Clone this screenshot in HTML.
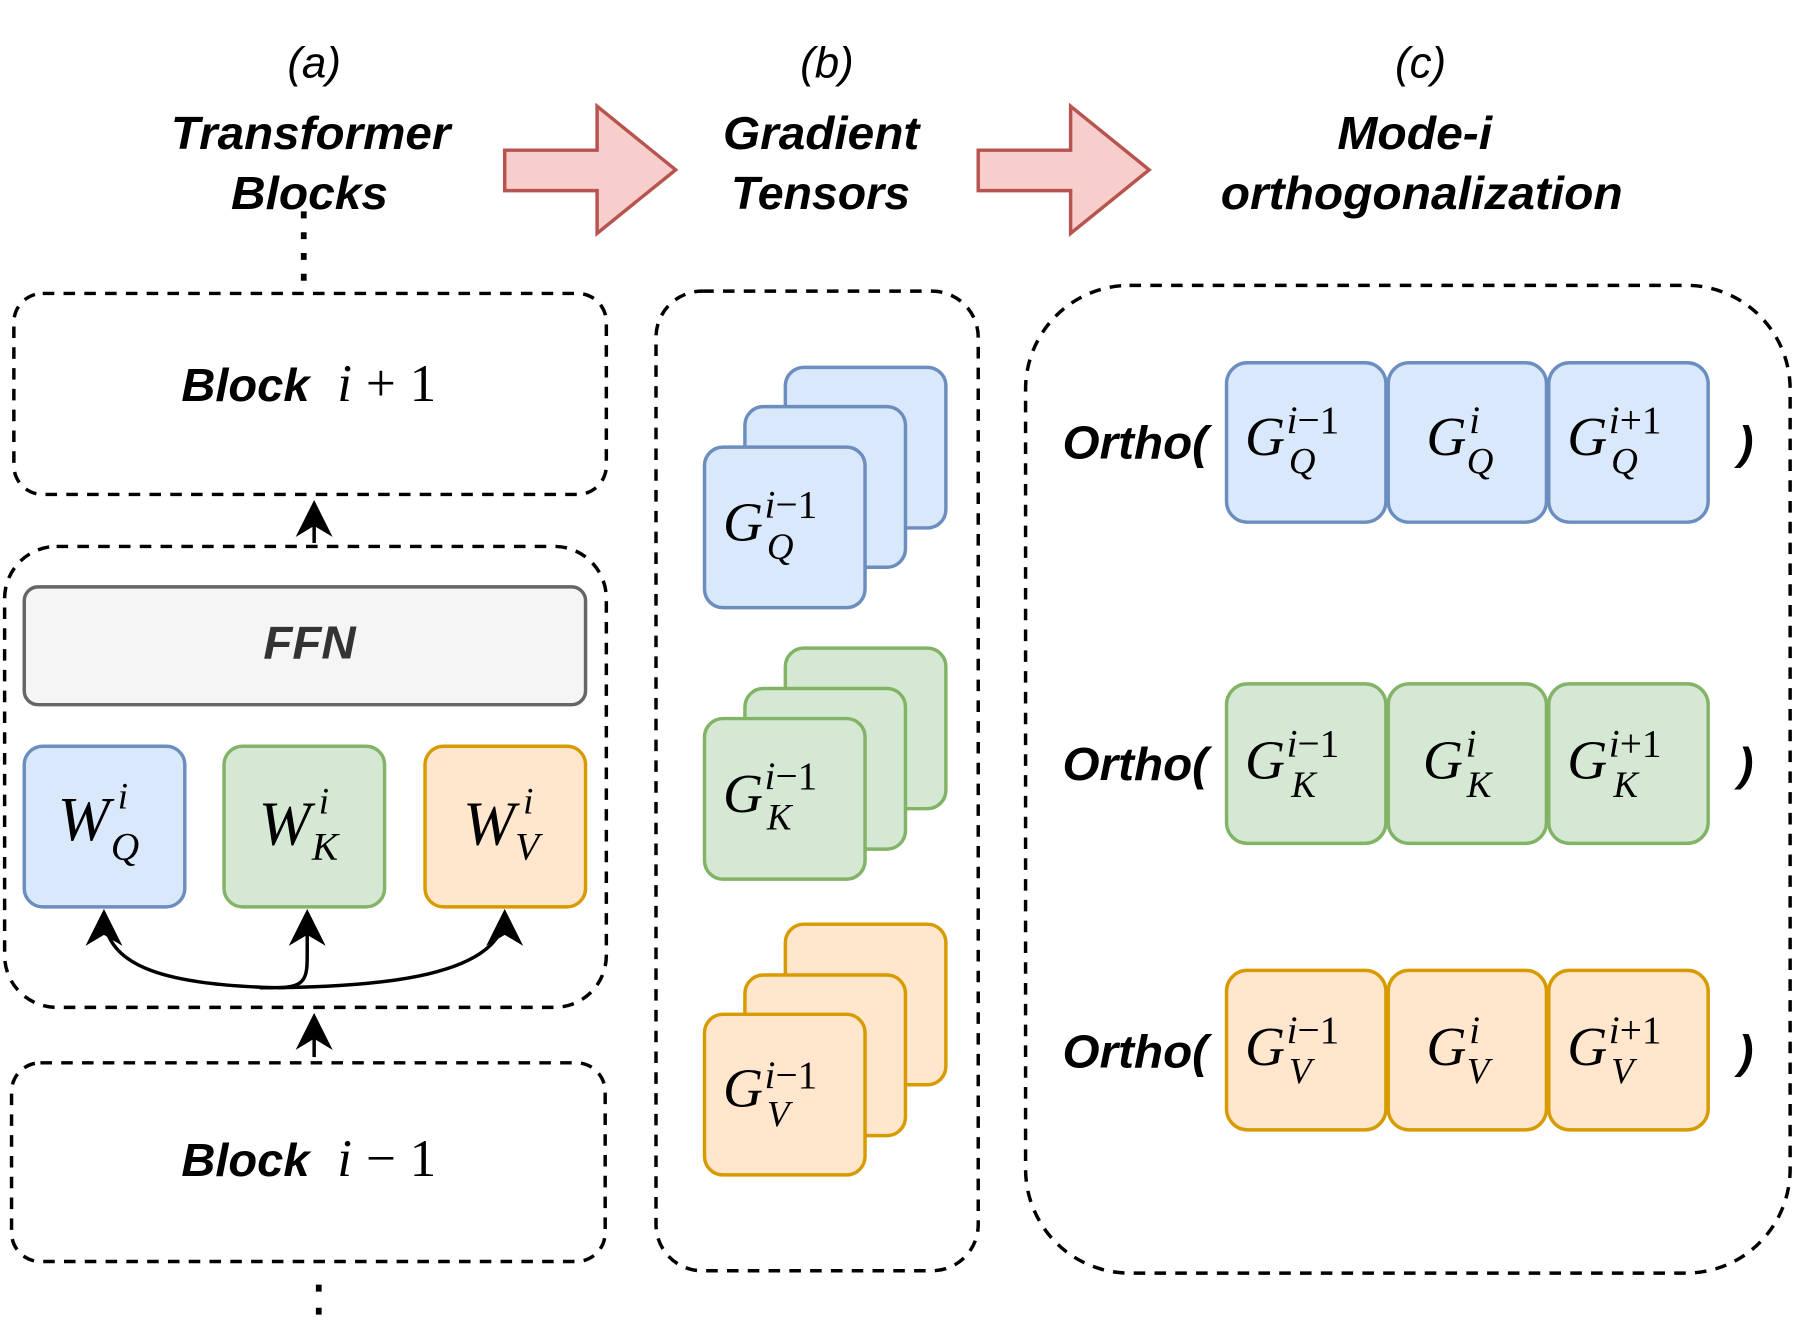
<!DOCTYPE html>
<html><head><meta charset="utf-8"><style>
html,body{margin:0;padding:0;background:#fff;}
svg{display:block;}
.t{font-family:"Liberation Sans",sans-serif;font-weight:bold;font-style:italic;fill:#000;}
.m{font-family:"Liberation Serif",serif;font-style:italic;fill:#000;}
.n{font-family:"Liberation Serif",serif;font-style:normal;}
.d{fill:none;stroke:#000;stroke-width:3;stroke-dasharray:10 8;}
</style></head><body>
<svg width="1804" height="1332" viewBox="0 0 1562 1153" preserveAspectRatio="none" xmlns="http://www.w3.org/2000/svg">
<defs>
<marker id="ah2" viewBox="0 0 10 10" refX="9" refY="5" markerWidth="32" markerHeight="32" markerUnits="userSpaceOnUse" orient="auto"><path d="M0,0 L10,5 L0,10 L3,5 Z" fill="#000"/></marker>
</defs>

<g style="font-family:'Liberation Sans',sans-serif;font-style:italic;font-size:38px">
<text x="272" y="67" text-anchor="middle">(a)</text>
<text x="716" y="67" text-anchor="middle">(b)</text>
<text x="1230" y="67" text-anchor="middle">(c)</text>
</g>
<g class="t" style="font-size:40px">
<text x="148" y="129" textLength="242" lengthAdjust="spacingAndGlyphs">Transformer</text>
<text x="200" y="181" textLength="136" lengthAdjust="spacingAndGlyphs">Blocks</text>
<text x="626" y="129" textLength="170" lengthAdjust="spacingAndGlyphs">Gradient</text>
<text x="633" y="181" textLength="155" lengthAdjust="spacingAndGlyphs">Tensors</text>
<text x="1158" y="129" textLength="134" lengthAdjust="spacingAndGlyphs">Mode-i</text>
<text x="1057" y="181" textLength="348" lengthAdjust="spacingAndGlyphs">orthogonalization</text>
</g>

<path d="M437,130 L517,130 L517,92 L585,147 L517,202 L517,165 L437,165 Z" fill="#f8cecc" stroke="#b85450" stroke-width="3"/>
<path d="M847,130 L927,130 L927,92 L995,147 L927,202 L927,165 L847,165 Z" fill="#f8cecc" stroke="#b85450" stroke-width="3"/>

<line x1="263" y1="183" x2="263" y2="248" stroke="#000" stroke-width="5" stroke-dasharray="6 12"/>
<line x1="276" y1="1112" x2="276" y2="1152" stroke="#000" stroke-width="5" stroke-dasharray="6 14"/>

<rect x="12" y="254" width="513" height="174" rx="25" class="d"/>
<text class="t" x="157" y="347" style="font-size:40px" textLength="111" lengthAdjust="spacingAndGlyphs">Block</text>
<text class="m" x="292" y="347" style="font-size:46px">i<tspan class="n" dx="12">+</tspan><tspan class="n" dx="12">1</tspan></text>

<line x1="272" y1="470" x2="272" y2="436" stroke="#000" stroke-width="3" marker-end="url(#ah2)"/>
<rect x="4" y="473" width="521" height="399" rx="45" class="d"/>
<rect x="21" y="508" width="486" height="102" rx="12" fill="#f5f5f5" stroke="#666" stroke-width="3"/>
<text class="t" x="228" y="570" style="font-size:40px;fill:#333" textLength="80" lengthAdjust="spacingAndGlyphs">FFN</text>

<rect x="21" y="646" width="139" height="139" rx="16" fill="#dae8fc" stroke="#6c8ebf" stroke-width="3"/>
<rect x="194" y="646" width="139" height="139" rx="16" fill="#d5e8d4" stroke="#82b366" stroke-width="3"/>
<rect x="368" y="646" width="139" height="139" rx="16" fill="#ffe6cc" stroke="#d79b00" stroke-width="3"/>
<g class="m">
<text x="50" y="727" style="font-size:54px">W</text><text x="102" y="700" style="font-size:32px">i</text><text x="96" y="744" style="font-size:34px">Q</text>
<text x="224" y="731" style="font-size:54px">W</text><text x="276" y="704" style="font-size:32px">i</text><text x="270" y="744" style="font-size:34px">K</text>
<text x="401" y="731" style="font-size:54px">W</text><text x="453" y="704" style="font-size:32px">i</text><text x="446" y="744" style="font-size:34px">V</text>
</g>
<path d="M237,855 C150,852 90,840 90,790" fill="none" stroke="#000" stroke-width="3" marker-end="url(#ah2)"/>
<path d="M225,855 C330,855 437,845 437,790" fill="none" stroke="#000" stroke-width="3" marker-end="url(#ah2)"/>
<path d="M240,855 C266,855 266,845 266,825 L266,790" fill="none" stroke="#000" stroke-width="3" marker-end="url(#ah2)"/>

<line x1="272" y1="915" x2="272" y2="880" stroke="#000" stroke-width="3" marker-end="url(#ah2)"/>
<rect x="10" y="920" width="514" height="172" rx="25" class="d"/>
<text class="t" x="157" y="1018" style="font-size:40px" textLength="111" lengthAdjust="spacingAndGlyphs">Block</text>
<text class="m" x="292" y="1018" style="font-size:46px">i<tspan class="n" dx="12">−</tspan><tspan class="n" dx="12">1</tspan></text>

<rect x="568" y="252" width="279" height="848" rx="40" class="d"/>
<g stroke-width="3">
<rect x="680" y="318" width="139" height="139" rx="16" fill="#dae8fc" stroke="#6c8ebf"/>
<rect x="645" y="352" width="139" height="139" rx="16" fill="#dae8fc" stroke="#6c8ebf"/>
<rect x="610" y="387" width="139" height="139" rx="16" fill="#dae8fc" stroke="#6c8ebf"/>
<rect x="680" y="561" width="139" height="139" rx="16" fill="#d5e8d4" stroke="#82b366"/>
<rect x="645" y="596" width="139" height="139" rx="16" fill="#d5e8d4" stroke="#82b366"/>
<rect x="610" y="622" width="139" height="139" rx="16" fill="#d5e8d4" stroke="#82b366"/>
<rect x="680" y="800" width="139" height="139" rx="16" fill="#ffe6cc" stroke="#d79b00"/>
<rect x="645" y="844" width="139" height="139" rx="16" fill="#ffe6cc" stroke="#d79b00"/>
<rect x="610" y="878" width="139" height="139" rx="16" fill="#ffe6cc" stroke="#d79b00"/>
</g>
<g class="m">
<text x="626" y="468" style="font-size:48px">G</text><text x="662" y="448" style="font-size:34px">i<tspan class="n">−1</tspan></text><text x="664" y="484" style="font-size:32px">Q</text>
<text x="626" y="703" style="font-size:48px">G</text><text x="662" y="683" style="font-size:34px">i<tspan class="n">−1</tspan></text><text x="664" y="718" style="font-size:32px">K</text>
<text x="626" y="958" style="font-size:48px">G</text><text x="662" y="942" style="font-size:34px">i<tspan class="n">−1</tspan></text><text x="664" y="975" style="font-size:32px">V</text>
</g>

<rect x="888" y="247" width="662" height="855" rx="90" class="d"/>
<g class="t" style="font-size:40px">
<text x="920" y="397" textLength="126" lengthAdjust="spacingAndGlyphs">Ortho(</text><text x="1505" y="397">)</text>
<text x="920" y="675" textLength="126" lengthAdjust="spacingAndGlyphs">Ortho(</text><text x="1505" y="675">)</text>
<text x="920" y="924" textLength="126" lengthAdjust="spacingAndGlyphs">Ortho(</text><text x="1505" y="924">)</text>
</g>
<g stroke-width="3">
<rect x="1062" y="314" width="138" height="138" rx="18" fill="#dae8fc" stroke="#6c8ebf"/>
<rect x="1202" y="314" width="137" height="138" rx="18" fill="#dae8fc" stroke="#6c8ebf"/>
<rect x="1341" y="314" width="138" height="138" rx="18" fill="#dae8fc" stroke="#6c8ebf"/>
<rect x="1062" y="592" width="138" height="138" rx="18" fill="#d5e8d4" stroke="#82b366"/>
<rect x="1202" y="592" width="137" height="138" rx="18" fill="#d5e8d4" stroke="#82b366"/>
<rect x="1341" y="592" width="138" height="138" rx="18" fill="#d5e8d4" stroke="#82b366"/>
<rect x="1062" y="840" width="138" height="138" rx="18" fill="#ffe6cc" stroke="#d79b00"/>
<rect x="1202" y="840" width="137" height="138" rx="18" fill="#ffe6cc" stroke="#d79b00"/>
<rect x="1341" y="840" width="138" height="138" rx="18" fill="#ffe6cc" stroke="#d79b00"/>
</g>
<g class="m">
<text x="1078" y="394" style="font-size:48px">G</text><text x="1114" y="375" style="font-size:34px">i<tspan class="n">−1</tspan></text><text x="1116" y="410" style="font-size:32px">Q</text>
<text x="1235" y="394" style="font-size:48px">G</text><text x="1272" y="375" style="font-size:34px">i</text><text x="1270" y="410" style="font-size:32px">Q</text>
<text x="1357" y="394" style="font-size:48px">G</text><text x="1393" y="375" style="font-size:34px">i<tspan class="n">+1</tspan></text><text x="1395" y="410" style="font-size:32px">Q</text>
<text x="1078" y="674" style="font-size:48px">G</text><text x="1114" y="655" style="font-size:34px">i<tspan class="n">−1</tspan></text><text x="1118" y="690" style="font-size:32px">K</text>
<text x="1232" y="674" style="font-size:48px">G</text><text x="1269" y="655" style="font-size:34px">i</text><text x="1270" y="690" style="font-size:32px">K</text>
<text x="1357" y="674" style="font-size:48px">G</text><text x="1393" y="655" style="font-size:34px">i<tspan class="n">+1</tspan></text><text x="1397" y="690" style="font-size:32px">K</text>
<text x="1078" y="922" style="font-size:48px">G</text><text x="1114" y="903" style="font-size:34px">i<tspan class="n">−1</tspan></text><text x="1116" y="938" style="font-size:32px">V</text>
<text x="1235" y="922" style="font-size:48px">G</text><text x="1272" y="903" style="font-size:34px">i</text><text x="1270" y="938" style="font-size:32px">V</text>
<text x="1357" y="922" style="font-size:48px">G</text><text x="1393" y="903" style="font-size:34px">i<tspan class="n">+1</tspan></text><text x="1395" y="938" style="font-size:32px">V</text>
</g>
</svg>
</body></html>
